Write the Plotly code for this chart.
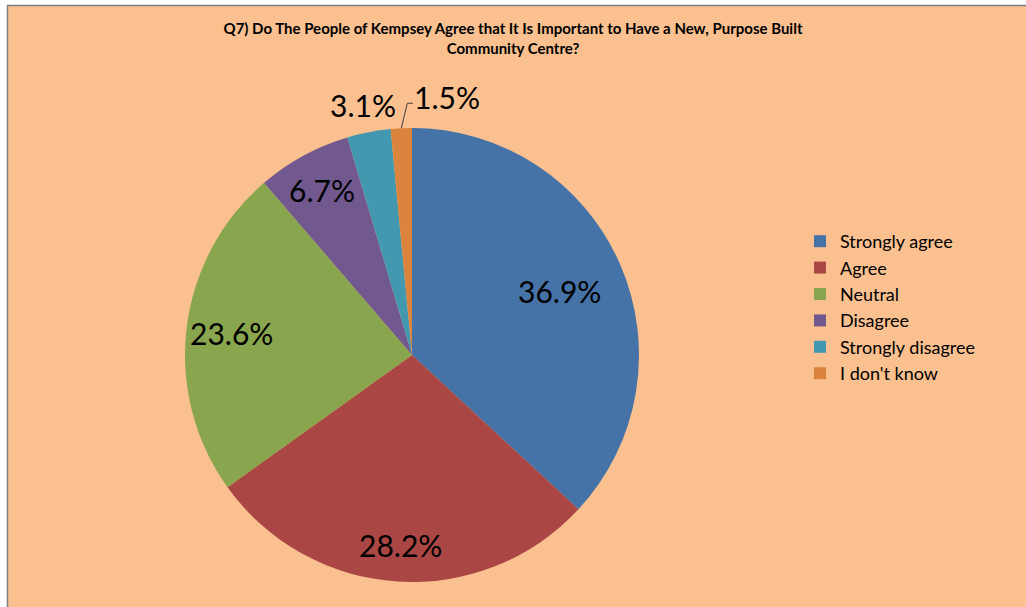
import math
import plotly.graph_objects as go

categories = ["Strongly agree", "Agree", "Neutral", "Disagree", "Strongly disagree", "I don't know"]
values = [36.9, 28.2, 23.6, 6.7, 3.1, 1.5]
colors = ["#4572A7", "#AA4643", "#89A54E", "#71588F", "#4198AF", "#DB843D"]

# label placement style (radius factor, angle offset in degrees)
label_rf = [0.71, 0.84, 0.80, 0.83, 1.123, 1.146]
label_dtheta = [0, 0, 0, 0, 0, 10.4]

W, H = 1026, 607
cx, cy, r = 412, 355, 227

fig = go.Figure(go.Pie(
    labels=categories,
    values=values,
    sort=False,
    direction="clockwise",
    rotation=0,
    marker=dict(colors=colors, line=dict(width=0)),
    textinfo="none",
    domain=dict(x=[(cx - r) / W, (cx + r) / W], y=[(H - cy - r) / H, (H - cy + r) / H]),
    hoverinfo="label+percent",
))

total = sum(values)
annotations = []
shapes = []
cum = 0.0
for i, v in enumerate(values):
    mid = (cum + v / 2) / total * 360.0
    cum += v
    th = math.radians(mid + label_dtheta[i])
    px = cx + label_rf[i] * r * math.sin(th)
    py = cy - label_rf[i] * r * math.cos(th)
    annotations.append(dict(
        x=px / W, y=1 - py / H, xref="paper", yref="paper",
        text=f"{v:.1f}%", showarrow=False,
        font=dict(family="Lato", size=30, color="black"),
        xanchor="center", yanchor="middle",
    ))
    if label_dtheta[i] > 8:
        # leader line from slice edge to label
        tm = math.radians(mid)
        ex, ey = cx + r * math.sin(tm), cy - r * math.cos(tm)
        kx, ky = ex + 6, ey - 25
        lx = px - 34
        shapes.append(dict(
            type="path", xref="paper", yref="paper",
            path=f"M {ex / W},{1 - ey / H} L {kx / W},{1 - ky / H} L {lx / W},{1 - ky / H}",
            line=dict(color="#404040", width=1),
        ))

shapes += [
    dict(type="rect", xref="paper", yref="paper", x0=0, x1=7 / W, y0=0, y1=1,
         fillcolor="white", line=dict(width=0), layer="above"),
    dict(type="rect", xref="paper", yref="paper", x0=0, x1=1, y0=1 - 5 / H, y1=1,
         fillcolor="white", line=dict(width=0), layer="above"),
    dict(type="line", xref="paper", yref="paper", x0=7.5 / W, x1=7.5 / W, y0=0, y1=1 - 5 / H,
         line=dict(color="#808080", width=1.5), layer="above"),
    dict(type="line", xref="paper", yref="paper", x0=7 / W, x1=1, y0=1 - 5.5 / H, y1=1 - 5.5 / H,
         line=dict(color="#808080", width=1.5), layer="above"),
]

fig.update_layout(
    width=W, height=H,
    margin=dict(l=0, r=0, t=0, b=0),
    paper_bgcolor="#FAC090",
    title=dict(
        text="<b>Q7) Do The People of Kempsey Agree that It Is Important to Have a New, Purpose Built<br>Community Centre?</b>",
        x=513 / W, xanchor="center", y=1 - 34 / H, yanchor="top",
        font=dict(family="Lato", size=15, color="black"),
        automargin=False,
    ),
    legend=dict(
        x=800 / W, y=(H - 223) / H, xanchor="left", yanchor="top",
        font=dict(family="Lato", size=18, color="black"),
        bgcolor="rgba(0,0,0,0)", itemwidth=30,
    ),
    annotations=annotations,
    shapes=shapes,
)

fig.write_html(
    "out.html",
    config={"displayModeBar": False},
    post_script="document.body.style.margin='0';document.body.style.overflow='hidden';",
)
